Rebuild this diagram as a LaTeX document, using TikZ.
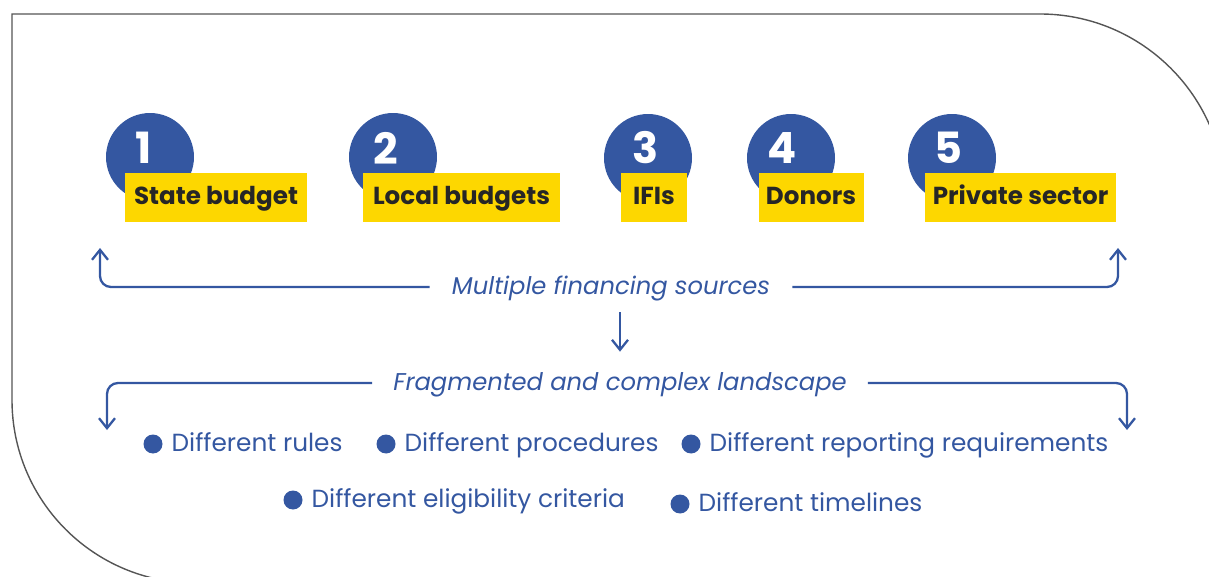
\documentclass[tikz,border=0pt]{standalone}
\usepackage{fontspec}
\setmainfont{Poppins}
\usepackage{tikz}
\usetikzlibrary{calc,shapes,positioning}
\usetikzlibrary{arrows,arrows.meta}
\definecolor{eublue}{HTML}{3457A1}
\definecolor{euyellow}{HTML}{FDD700}
\definecolor{darktext}{HTML}{262626}
\definecolor{framegray}{HTML}{555555}

\begin{document}
\begin{tikzpicture}[x=0.02cm,y=-0.02cm]
      \tikzstyle{numnode} = [circle, fill=eublue, minimum size=1.76cm, inner sep=0pt]
      \tikzstyle{digit} = [text=white, inner sep=0pt, font=\fontsize{24.5}{25}\selectfont\bfseries]
      \tikzstyle{srcbox} = [fill=euyellow, text=darktext, minimum height=0.98cm, inner sep=0pt,
      text height=0.8em, text depth=0pt, font=\fontsize{14}{16}\selectfont\bfseries]
      \tikzstyle{caption} = [text=eublue, minimum height=1cm, inner sep=0pt, text height=0.8em,
      text depth=0pt, font=\fontsize{13.8}{15}\selectfont\itshape]
      \tikzstyle{dot} = [circle, fill=eublue, minimum size=0.38cm, inner sep=0pt]
      \tikzstyle{item} = [text=eublue, inner sep=0pt, text height=0.8em, text depth=0pt,
      font=\fontsize{14.1}{15}\selectfont]
      \tikzstyle{flow} = [-{Straight Barb[length=0.2cm, width=0.32cm]}, draw=eublue,
      line width=1.3pt, rounded corners=0.22cm]

      \useasboundingbox (0,0) rectangle (1209,577);

      % frame
      \begin{scope}
        \clip (0,0) rectangle (1209,577);
        \draw[framegray, line width=0.8pt] (1225,700) -- (1225,199)
          .. controls (1225,97) and (1142,14) .. (1040,14) -- (12,14) -- (12,400)
          .. controls (12,501) and (94,583) .. (195,583) -- (1300,583);
      \end{scope}

      % sources
      \node[numnode] (c1) at (150,157) {};
      \node[numnode] (c2) at (393,157) {};
      \node[numnode] (c3) at (648,158) {};
      \node[numnode] (c4) at (791,158) {};
      \node[numnode] (c5) at (952,158) {};
      \node[digit] (d1) at (144,148) {1};
      \node[digit] (d2) at (386,148) {2};
      \node[digit] (d3) at (646,148) {3};
      \node[digit] (d4) at (782,148) {4};
      \node[digit] (d5) at (948,148) {5};
      \node[srcbox, minimum width=3.64cm] (state) at (216,197.5) {State budget};
      \node[srcbox, minimum width=3.94cm] (local) at (461.5,197.5) {Local budgets};
      \node[srcbox, minimum width=1.32cm] (ifis) at (654,197.5) {IFIs};
      \node[srcbox, minimum width=2.10cm] (donors) at (811,197.5) {Donors};
      \node[srcbox, minimum width=3.82cm] (private) at (1020.5,197.5) {Private sector};

      % captions
      \node[caption, minimum width=7.24cm] (multi) at (611,287) {Multiple financing sources};
      \node[caption, minimum width=9.9cm] (frag) at (620,383) {Fragmented and complex landscape};
      \coordinate (upL) at (100,248);
      \coordinate (upR) at (1118,248);
      \coordinate (dnL) at (107,430);
      \coordinate (dnR) at (1127,430);

      % connections
      \draw[flow] (multi.west) -| (upL);
      \draw[flow] (multi.east) -| (upR);
      \draw[flow, shorten >=0.12cm] (frag.north |- multi.south) -- (frag.north);
      \draw[flow] (frag.west) -| (dnL);
      \draw[flow] (frag.east) -| (dnR);

      % differences
      \node[dot] (r1) at (153,444) {};
      \node[dot] (r2) at (386,444) {};
      \node[dot] (r3) at (691,444) {};
      \node[dot] (r4) at (293,500) {};
      \node[dot] (r5) at (680,504) {};
      \node[item, right=0.17cm of r1] (rules) {Different rules};
      \node[item, right=0.17cm of r2] (proc) {Different procedures};
      \node[item, right=0.17cm of r3] (report) {Different reporting requirements};
      \node[item, right=0.17cm of r4] (elig) {Different eligibility criteria};
      \node[item, right=0.17cm of r5] (time) {Different timelines};
    \end{tikzpicture}
\end{document}
